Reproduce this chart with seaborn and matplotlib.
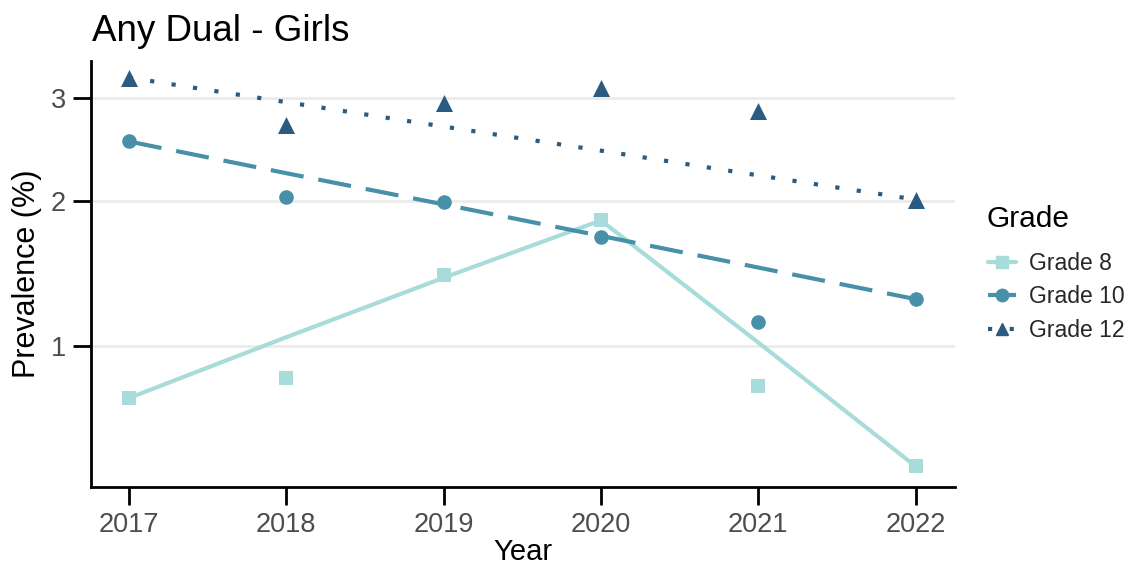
import numpy as np
import pandas as pd
import matplotlib
matplotlib.use("Agg")
import matplotlib.pyplot as plt
import seaborn as sns
from matplotlib.lines import Line2D

# ---------------- data ----------------
years = [2017, 2018, 2019, 2020, 2021, 2022]
grades = ["Grade 8", "Grade 10", "Grade 12"]

grade8_obs = [0.73, 0.83, 1.44, 1.84, 0.79, 0.43]
grade10_obs = [2.54, 2.03, 1.99, 1.71, 1.14, 1.28]
grade12_obs = [3.23, 2.71, 2.94, 3.11, 2.85, 2.01]

grade8_trend = [0.73, 1.05, 1.42, 1.84, 1.02, 0.43]
grade10_trend = [2.54, 2.24, 1.97, 1.72, 1.49, 1.28]
grade12_trend = [3.23, 2.95, 2.69, 2.45, 2.22, 2.01]

y_ticks = [1, 2, 3]
x_ticks = years

title = "Any Dual - Girls"
x_label = "Year"
y_label = "Prevalence (%)"
legend_title = "Grade"

# ---------------- styling ----------------
colors = {"Grade 8": "#A8DCDA", "Grade 10": "#4790A8", "Grade 12": "#2A5B80"}
markers = {"Grade 8": "s", "Grade 10": "o", "Grade 12": "^"}
dashes = {"Grade 8": "", "Grade 10": (8, 3.6), "Grade 12": (1, 4.2)}
msize = {"Grade 8": 110, "Grade 10": 110, "Grade 12": 150}

obs = pd.DataFrame({
    "Year": years * 3,
    "Prevalence": grade8_obs + grade10_obs + grade12_obs,
    "Grade": [g for g in grades for _ in years],
})
trend = pd.DataFrame({
    "Year": years * 3,
    "Prevalence": grade8_trend + grade10_trend + grade12_trend,
    "Grade": [g for g in grades for _ in years],
})

sns.set_theme(style="white")
plt.rcParams["font.family"] = ["Liberation Sans", "DejaVu Sans"]

fig = plt.figure(figsize=(11.37, 5.65), dpi=100)
ax = fig.add_axes([0.080, 0.138, 0.760, 0.754])

ax.set_yscale("function", functions=(np.log1p, np.expm1))

for y in y_ticks:
    ax.axhline(y, color="#EBEBEB", lw=2, zorder=0)

sns.lineplot(data=trend, x="Year", y="Prevalence", hue="Grade", style="Grade",
             hue_order=grades, style_order=grades, palette=colors, dashes=dashes,
             linewidth=3, legend=False, ax=ax, zorder=2)

for g in grades:
    sub = obs[obs["Grade"] == g]
    sns.scatterplot(data=sub, x="Year", y="Prevalence", color=colors[g],
                    marker=markers[g], s=msize[g], linewidth=0, legend=False,
                    ax=ax, zorder=3)

ax.set_xlim(2016.76, 2022.25)
ax.set_ylim(0.35, 3.43)
ax.set_xticks(x_ticks)
ax.set_xticklabels([str(x) for x in x_ticks])
ax.set_yticks(y_ticks)
ax.set_yticklabels([str(y) for y in y_ticks])
ax.minorticks_off()

for side in ["top", "right"]:
    ax.spines[side].set_visible(False)
for side in ["left", "bottom"]:
    ax.spines[side].set_color("black")
    ax.spines[side].set_linewidth(2)

ax.tick_params(axis="both", which="major", length=13, width=2, color="black",
               labelsize=19.5, labelcolor="#4D4D4D", pad=5, left=True, bottom=True)

ax.set_xlabel(x_label, fontsize=21, color="black", labelpad=0)
ax.set_ylabel(y_label, fontsize=22, color="black", labelpad=6)
fig.text(0.081, 0.945, title, fontsize=26.5, color="black", ha="left", va="center")

handles = [Line2D([0], [0], color=colors[g], lw=3, marker=markers[g], markersize=9,
                  linestyle=("-" if g == "Grade 8" else (0, dashes[g])))
           for g in grades]
fig.text(0.868, 0.613, legend_title, fontsize=21.5, color="black",
         ha="left", va="center")
leg = fig.legend(handles, grades, loc="upper left",
                 bbox_to_anchor=(0.865, 0.562), frameon=False, fontsize=16.5,
                 handlelength=1.2, handletextpad=0.6, labelspacing=0.45,
                 borderaxespad=0, borderpad=0.2)

fig.savefig("out.png", dpi=100)
